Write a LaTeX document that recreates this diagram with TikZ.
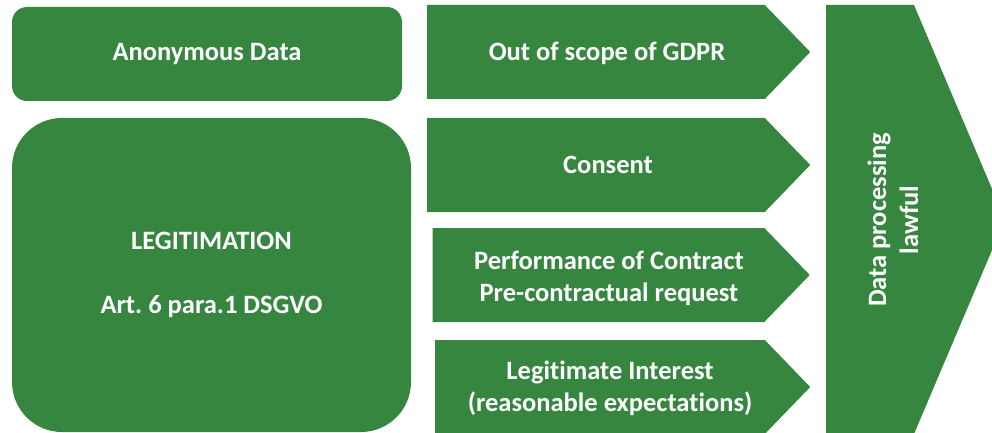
\documentclass[tikz,border=0pt]{standalone}
\usepackage{fontspec}
\setmainfont{Carlito}[Ligatures=NoCommon]
\usetikzlibrary{shapes.symbols}
\definecolor{gdprgreen}{RGB}{54,134,64}
\frenchspacing

\begin{document}
\begin{tikzpicture}[x=1pt, y=-1pt,
    box/.style={fill=gdprgreen, draw=none, rounded corners=#1, inner sep=0pt},
    arr/.style={signal, signal to=east, signal pointer angle=92, fill=gdprgreen, draw=none, inner sep=0pt, minimum height=94pt},
    lbl/.style={text=white, font=\fontsize{26.5}{32}\selectfont\bfseries, align=center}]
    \clip (0,0) rectangle (992,433);
    % Left column
    \node[box=15pt, lbl, minimum width=390pt, minimum height=94pt] (anon) at (207,54) {Anonymous Data};
    \node[box=50pt, lbl, minimum width=399pt, minimum height=314pt] (legit) at (211.5,275) {LEGITIMATION\\[32pt]Art. 6 para.1 DSGVO};
    % Middle arrows (node centre = centre of the body)
    \node[arr, minimum width=383pt] (scope) at (596,52) {};
    \node[arr, minimum width=383pt] (consent) at (596,165) {};
    \node[arr, minimum width=377pt] (contract) at (598.5,275) {};
    \node[arr, minimum width=375pt] (interest) at (600,387) {};
    \node[lbl] (scopetxt) at (607,53) {Out of scope of GDPR};
    \node[lbl] (consenttxt) at (608,165) {Consent};
    \node[lbl] (contracttxt) at (609,278) {Performance of Contract\\Pre-contractual request};
    \node[lbl] (interesttxt) at (610,388) {Legitimate Interest\\(reasonable expectations)};
    % Result arrow, tip runs off the right edge
    \node[signal, signal to=east, signal pointer angle=134, fill=gdprgreen, draw=none, inner sep=0pt,
          minimum width=179pt, minimum height=429pt] (lawful) at (870,219.5) {};
    \node[lbl, rotate=90] (lawfultxt) at (893,220) {Data processing\\lawful};
\end{tikzpicture}
\end{document}
